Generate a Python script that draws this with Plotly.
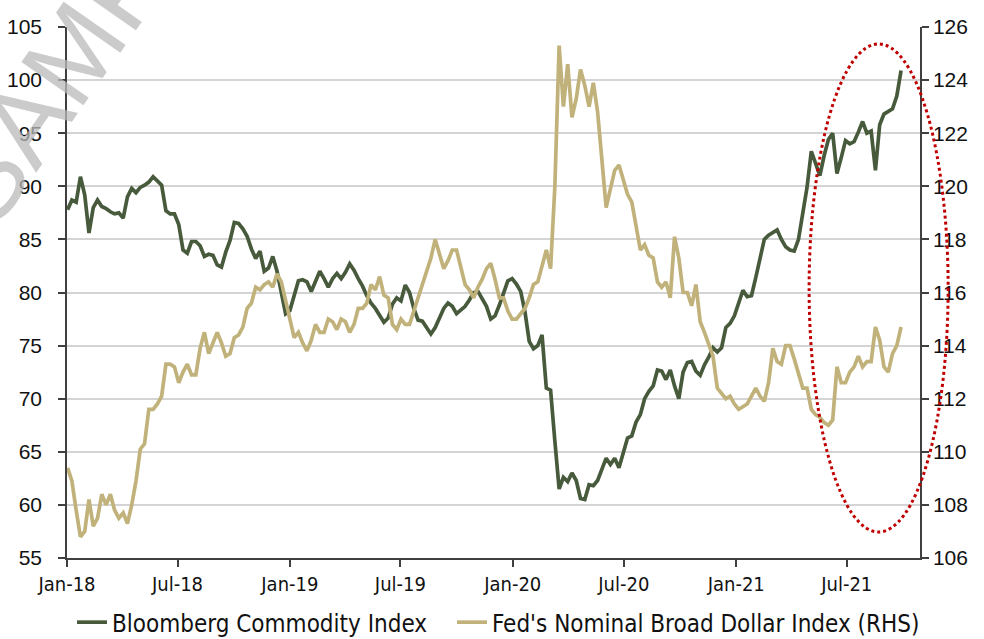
import plotly.graph_objects as go
import pandas as pd

# Weekly observations, Jan 2018 - Sep 2021
start_date = "2018-01-02"
n_weeks = 196

bcom = [
    87.8, 88.7, 88.5, 90.9, 89.2, 85.6, 88.0, 88.7, 88.1, 87.9,
    87.6, 87.4, 87.5, 87.0, 89.0, 89.8, 89.4, 89.9, 90.1, 90.4,
    90.9, 90.5, 90.1, 87.7, 87.4, 87.4, 86.4, 84.0, 83.7, 84.8,
    84.8, 84.4, 83.4, 83.6, 83.5, 82.6, 82.4, 83.8, 84.9, 86.6,
    86.5, 86.0, 85.3, 84.1, 83.2, 83.9, 82.0, 82.3, 83.4, 82.0,
    80.0, 78.0, 78.3, 79.6, 81.1, 81.2, 81.0, 80.1, 81.0, 82.0,
    81.3, 80.5, 81.3, 81.8, 81.3, 81.9, 82.7, 82.1, 81.3, 80.6,
    79.7, 79.0, 78.5, 77.8, 77.2, 77.6, 78.9, 79.5, 79.2, 80.7,
    80.0, 78.5, 77.4, 77.3, 76.7, 76.1, 76.7, 77.6, 78.5, 79.0,
    78.7, 78.0, 78.4, 78.7, 79.3, 80.0, 80.1, 79.4, 78.7, 77.5,
    77.8, 78.8, 80.0, 81.1, 81.3, 80.8, 80.1, 78.2, 75.4, 74.7,
    75.0, 76.0, 71.0, 70.8, 66.0, 61.5, 62.6, 62.2, 63.0, 62.3,
    60.6, 60.5, 61.9, 61.8, 62.3, 63.3, 64.4, 63.8, 64.4, 63.5,
    65.0, 66.3, 66.5, 67.8, 68.5, 70.0, 70.7, 71.2, 72.7, 72.6,
    71.8, 72.7, 71.2, 70.0, 72.5, 73.4, 73.5, 72.6, 72.2, 73.2,
    73.9, 74.8, 74.4, 74.8, 76.7, 77.1, 77.8, 79.0, 80.2, 79.6,
    79.7, 81.4, 83.4, 85.0, 85.4, 85.7, 85.9, 85.0, 84.3, 84.0,
    83.9, 85.0, 87.5, 89.9, 93.3, 92.2, 91.0, 92.9, 94.4, 95.0,
    91.2, 92.7, 94.3, 94.0, 94.2, 95.1, 96.1, 95.0, 95.2, 91.5,
    95.8, 96.8, 97.1, 97.3, 98.5, 100.9,
]

dollar = [
    109.4, 108.9, 107.8, 106.8, 107.0, 108.2, 107.2, 107.5, 108.4, 108.0,
    108.4, 107.8, 107.5, 107.7, 107.3, 108.0, 108.9, 110.1, 110.3, 111.6,
    111.6, 111.8, 112.1, 113.3, 113.3, 113.2, 112.6, 113.0, 113.3, 112.9,
    112.9, 113.9, 114.5, 113.7, 114.1, 114.5, 114.1, 113.6, 113.7, 114.3,
    114.4, 114.7, 115.4, 115.6, 116.2, 116.1, 116.3, 116.4, 116.2, 116.7,
    116.4, 115.7, 115.0, 114.3, 114.5, 114.1, 113.8, 114.2, 114.8, 114.5,
    114.5, 115.0, 114.9, 114.6, 115.0, 114.9, 114.5, 114.8, 115.4, 115.4,
    115.6, 116.3, 116.1, 116.6, 115.9, 115.8, 114.8, 114.6, 115.0, 114.8,
    114.8, 115.3, 115.9, 116.3, 116.8, 117.3, 118.0, 117.4, 116.9, 117.2,
    117.6, 117.6, 117.0, 116.3, 116.1, 115.8, 116.2, 116.5, 116.9, 117.1,
    116.5, 115.8, 115.8, 115.3, 115.0, 115.0, 115.2, 115.4, 115.8, 116.3,
    116.4, 117.0, 117.6, 116.9, 120.0, 125.3, 123.0, 124.6, 122.6, 123.3,
    124.4, 123.8, 123.0, 123.9, 122.8, 121.0, 119.2, 119.9, 120.6, 120.8,
    120.3, 119.7, 119.4, 118.5, 117.6, 117.8, 117.4, 117.3, 116.4, 116.2,
    116.4, 115.8, 118.1, 117.3, 116.0, 116.0, 115.5, 116.3, 114.9, 114.5,
    114.0, 113.6, 112.4, 112.2, 112.0, 112.1, 111.8, 111.6, 111.7, 111.8,
    112.1, 112.4, 112.1, 111.9, 112.6, 113.9, 113.4, 113.3, 114.0, 114.0,
    113.5, 112.9, 112.4, 112.4, 111.6, 111.4, 111.3, 111.1, 111.0, 111.2,
    113.2, 112.6, 112.6, 113.0, 113.2, 113.6, 113.2, 113.4, 113.4, 114.7,
    114.2, 113.2, 113.0, 113.7, 114.0, 114.7,
]

series_names = ["Bloomberg Commodity Index", "Fed's Nominal Broad Dollar Index (RHS)"]
dates = pd.date_range(start_date, periods=n_weeks, freq="7D")

GREEN = "#475A3C"
GOLD = "#C0B27A"
AXIS = "#404040"
GRID = "#D4D4D4"

fig = go.Figure()
fig.add_trace(go.Scatter(x=dates, y=bcom, name=series_names[0], mode="lines",
                         line=dict(color=GREEN, width=3.7), yaxis="y", legend="legend"))
fig.add_trace(go.Scatter(x=dates, y=dollar, name=series_names[1], mode="lines",
                         line=dict(color=GOLD, width=3.7), yaxis="y2", legend="legend2"))

tick_font_num = dict(family="Liberation Sans, Arial, sans-serif", size=21, color="#111111")
tick_font_txt = dict(family="DejaVu Sans Condensed, DejaVu Sans, sans-serif", size=20, color="#111111")
legend_font = dict(family="DejaVu Sans Condensed, DejaVu Sans, sans-serif", size=24, color="#111111")

fig.update_layout(
    width=984, height=639,
    margin=dict(l=67, r=64, t=27, b=81, autoexpand=False),
    paper_bgcolor="white", plot_bgcolor="white",
    showlegend=True,
    legend=dict(orientation="h", x=(72 - 67) / 853, xanchor="left", y=0.0257, yanchor="middle",
                yref="container", font=legend_font, itemwidth=30,
                bgcolor="rgba(0,0,0,0)"),
    legend2=dict(orientation="h", x=(452 - 67) / 853, xanchor="left", y=0.0257, yanchor="middle",
                 yref="container", font=legend_font, itemwidth=30,
                 bgcolor="rgba(0,0,0,0)"),
    xaxis=dict(type="date", range=["2018-01-01", "2021-10-29"],
               tick0="2018-01-01", dtick="M6", tickformat="%b-%y",
               showgrid=False, showline=True, linecolor=AXIS, linewidth=1.5,
               ticks="outside", ticklen=7, tickcolor=AXIS, tickwidth=1.5,
               tickfont=tick_font_txt, zeroline=False),
    yaxis=dict(range=[55, 105], dtick=5, tick0=55, showgrid=True, gridcolor=GRID, gridwidth=1.5,
               showline=True, linecolor=AXIS, linewidth=1.5,
               ticks="outside", ticklen=7, tickcolor=AXIS, tickwidth=1.5,
               ticklabelstandoff=12,
               tickfont=tick_font_num, zeroline=False),
    yaxis2=dict(range=[106, 126], dtick=2, tick0=106, overlaying="y", side="right",
                showgrid=False, showline=True, linecolor=AXIS, linewidth=1.5,
                ticks="outside", ticklen=7, tickcolor=AXIS, tickwidth=1.5,
                tickfont=tick_font_num, zeroline=False),
)

# red dotted highlight ellipse around recent period
fig.add_shape(type="circle", xref="paper", yref="paper",
              x0=0.870, x1=1.033, y0=0.049, y1=0.968,
              line=dict(color="#C00000", width=3, dash="dot"), layer="above")

# watermark
fig.add_annotation(text="SAMPLE", xref="paper", yref="paper",
                   x=(90 - 67) / 853, y=(558 - 28) / 531, showarrow=False,
                   xanchor="center", yanchor="middle",
                   textangle=-55, font=dict(family="Liberation Sans, Arial, sans-serif",
                                            size=110, color="rgba(185,185,185,0.75)"))

fig.write_html("out.html", config={"displayModeBar": False},
               post_script="document.body.style.margin='0px';")
